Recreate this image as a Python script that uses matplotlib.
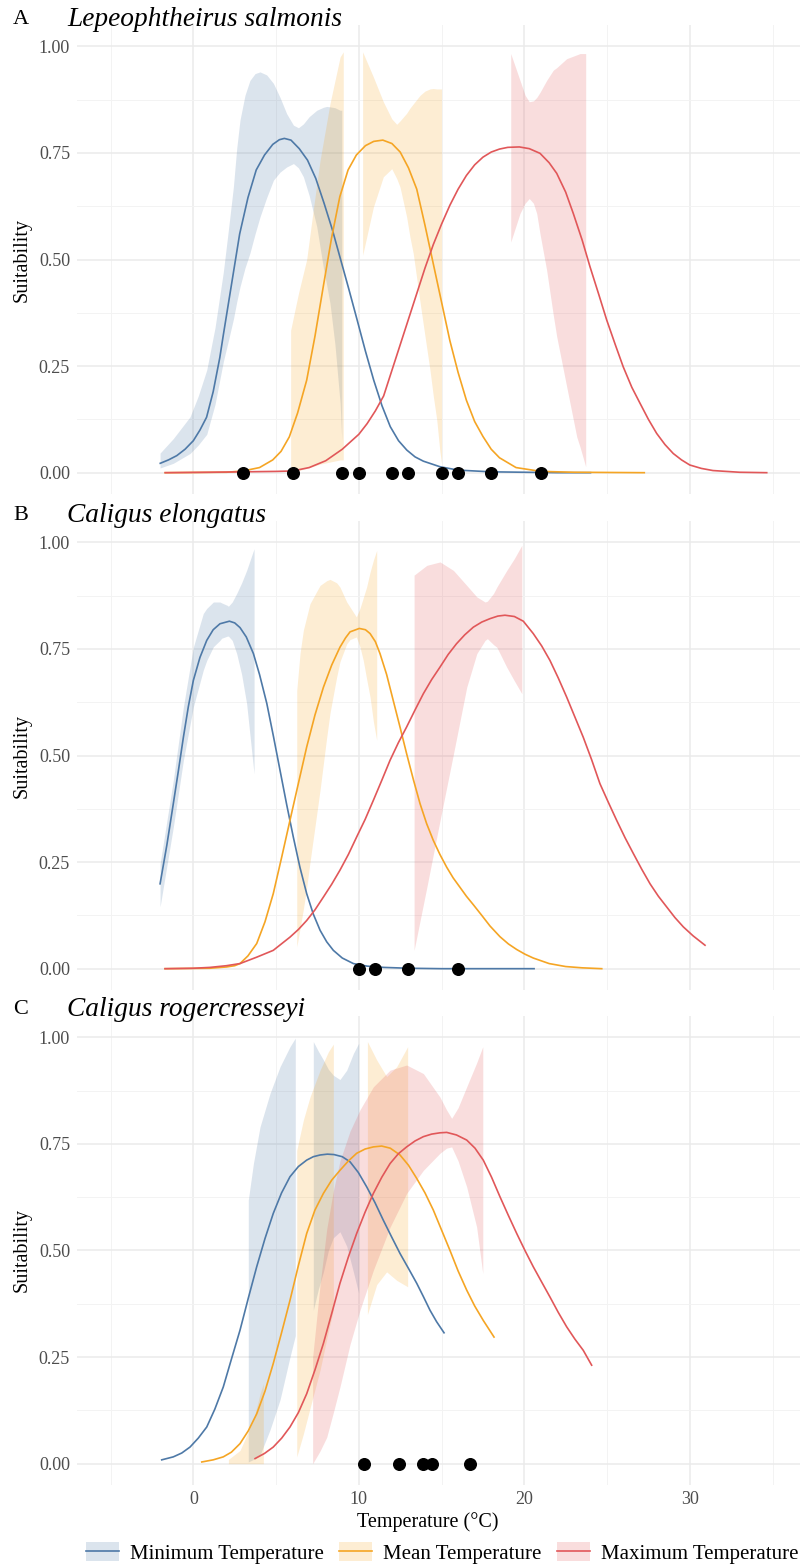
import matplotlib
matplotlib.use('Agg')
import matplotlib.pyplot as plt
from matplotlib.patches import Patch
from matplotlib.lines import Line2D

plt.rcParams['font.family'] = ['Liberation Serif', 'DejaVu Serif']

letters = ['A', 'B', 'C']
species = ['Lepeophtheirus salmonis', 'Caligus elongatus', 'Caligus rogercresseyi']
series_names = ['Minimum Temperature', 'Mean Temperature', 'Maximum Temperature']
line_colors = ['#4E79A7', '#F5A524', '#E15759']

# ---------------- panel A: Lepeophtheirus salmonis
a_min_x = [-2.0, -1.5, -1.0, -0.5, 0, 0.4, 0.8, 1.2, 1.6, 1.8, 2.3, 2.8, 3.3, 3.8, 4.3, 4.8, 5.2, 5.5, 5.9, 6.4, 6.9,
           7.4, 7.9, 8.4, 8.9, 9.4, 9.9, 10.4, 10.9, 11.4, 11.9, 12.4, 12.9, 13.4, 13.9, 14.9, 16, 18, 20, 22, 24]
a_min_y = [0.022, 0.03, 0.04, 0.055, 0.075, 0.1, 0.13, 0.19, 0.27, 0.32, 0.44, 0.56, 0.645, 0.71, 0.745, 0.77, 0.781, 0.784, 0.78, 0.76, 0.733,
           0.69, 0.632, 0.57, 0.50, 0.43, 0.358, 0.285, 0.217, 0.157, 0.108, 0.075, 0.053, 0.037, 0.027, 0.014, 0.006, 0.002, 0.001, 0.0, 0.0]
a_mean_x = [-1.7, 2, 3, 4, 4.8, 5.3, 5.8, 6.3, 6.85, 7.35, 7.85, 8.35, 8.85, 9.35, 9.85, 10.4, 10.9, 11.45, 12.0, 12.5,
            13.0, 13.5, 14.0, 14.5, 15.0, 15.5, 16.0, 16.5, 17.0, 17.5, 18.0, 18.5, 19.5, 21, 23, 27.25]
a_mean_y = [0, 0.001, 0.004, 0.012, 0.03, 0.05, 0.084, 0.14, 0.217, 0.32, 0.436, 0.55, 0.647, 0.71, 0.745, 0.767, 0.777, 0.78, 0.772, 0.752,
            0.715, 0.665, 0.58, 0.49, 0.40, 0.31, 0.235, 0.17, 0.12, 0.085, 0.055, 0.035, 0.012, 0.003, 0.001, 0]
a_max_x = [-1.7, 1, 3, 5, 6, 7, 8, 9, 10, 10.5, 11, 11.5, 12, 12.5, 13, 13.5, 14, 14.5, 15, 15.5, 16, 16.5, 17, 17.5, 18, 18.5, 19,
           19.7, 20.3, 20.95, 21.5, 21.96, 22.5, 22.96, 23.5, 23.97, 24.5, 24.98, 25.5, 25.98, 26.5, 26.99, 27.5, 28, 28.5, 29,
           29.5, 30, 30.7, 31.4, 33, 34.65]
a_max_y = [0, 0.001, 0.002, 0.003, 0.004, 0.012, 0.028, 0.055, 0.09, 0.115, 0.145, 0.18, 0.24, 0.3, 0.36, 0.42, 0.48, 0.535, 0.583, 0.627, 0.665, 0.697, 0.722, 0.74, 0.752, 0.759, 0.763,
           0.764, 0.76, 0.749, 0.727, 0.702, 0.658, 0.608, 0.545, 0.483, 0.418, 0.358, 0.3, 0.248, 0.2, 0.163, 0.125, 0.092, 0.066, 0.045,
           0.03, 0.018, 0.01, 0.005, 0.001, 0]

a_min_band_x = [-2.01, -1.21, -0.2, 0.3, 0.81, 1.31, 1.81, 2.12, 2.42, 2.62, 2.82, 3.12, 3.42, 3.73, 4.03, 4.43, 4.84, 5.24, 5.64,
                6.05, 6.35, 6.65, 7.0, 7.46, 7.86, 8.06, 8.26, 8.56, 8.87, 8.97]
a_min_band_hi = [0.046, 0.08, 0.131, 0.18, 0.241, 0.34, 0.47, 0.57, 0.67, 0.76, 0.827, 0.885, 0.92, 0.936, 0.94, 0.933, 0.913, 0.88, 0.842,
                 0.815, 0.809, 0.818, 0.835, 0.85, 0.857, 0.859, 0.858, 0.856, 0.85, 0.85]
a_min_band_lo = [0.011, 0.022, 0.045, 0.065, 0.09, 0.16, 0.26, 0.31, 0.36, 0.40, 0.436, 0.48, 0.515, 0.56, 0.6, 0.645, 0.686, 0.705, 0.717,
                 0.725, 0.715, 0.694, 0.65, 0.577, 0.48, 0.44, 0.397, 0.3, 0.163, 0.077]
a_mean_band1_x = [5.88, 6.35, 6.85, 7.26, 7.66, 8.26, 8.87, 9.06]
a_mean_band1_hi = [0.334, 0.42, 0.50, 0.62, 0.733, 0.866, 0.975, 0.987]
a_mean_band1_lo = [0.0, 0.005, 0.01, 0.015, 0.02, 0.025, 0.03, 0.03]
a_mean_band2_x = [10.23, 10.88, 11.48, 11.99, 12.29, 12.49, 12.89, 13.09, 13.29, 13.7, 14.0, 14.3, 14.5, 14.71, 14.9, 15.0]
a_mean_band2_hi = [0.987, 0.928, 0.87, 0.83, 0.817, 0.825, 0.843, 0.855, 0.865, 0.885, 0.895, 0.90, 0.901, 0.90, 0.9, 0.9]
a_mean_band2_lo = [0.51, 0.623, 0.694, 0.713, 0.69, 0.67, 0.60, 0.553, 0.514, 0.40, 0.32, 0.241, 0.18, 0.124, 0.05, 0.022]
a_max_band_x = [19.18, 19.74, 20.05, 20.3, 20.55, 20.75, 20.95, 21.35, 21.75, 21.96, 22.56, 23.17, 23.37, 23.71]
a_max_band_hi = [0.983, 0.92, 0.885, 0.87, 0.872, 0.88, 0.892, 0.92, 0.944, 0.95, 0.971, 0.98, 0.983, 0.983]
a_max_band_lo = [0.541, 0.608, 0.632, 0.643, 0.632, 0.608, 0.56, 0.475, 0.37, 0.319, 0.202, 0.084, 0.06, 0.014]
a_obs = [3, 6, 9, 10, 12, 13, 15, 16, 18, 21]

# ---------------- panel B: Caligus elongatus
b_min_x = [-2.01, -1.6, -1.21, -0.9, -0.6, -0.3, 0, 0.4, 0.81, 1.2, 1.61, 2.18, 2.5, 2.82, 3.2, 3.63, 4.0, 4.44, 4.84, 5.24,
           5.64, 6.04, 6.44, 6.85, 7.25, 7.66, 8.06, 8.46, 9.0, 9.67, 10.5, 11.5, 13, 15, 20.59]
b_min_y = [0.199, 0.29, 0.387, 0.465, 0.543, 0.615, 0.676, 0.73, 0.77, 0.795, 0.809, 0.815, 0.811, 0.80, 0.778, 0.739, 0.69, 0.622, 0.545, 0.465,
           0.385, 0.309, 0.238, 0.176, 0.128, 0.09, 0.063, 0.043, 0.025, 0.012, 0.006, 0.003, 0.001, 0, 0]
b_mean_x = [-1.71, 1, 2, 2.5, 2.82, 3.3, 3.83, 4.33, 4.83, 5.33, 5.84, 6.35, 6.85, 7.35, 7.86, 8.36, 8.86, 9.2, 9.47, 10.03, 10.4,
            10.68, 11.0, 11.28, 11.68, 12.08, 12.5, 12.89, 13.3, 13.7, 14.1, 14.5, 14.9, 15.31, 15.7, 16.11, 16.5, 16.92, 17.43,
            17.93, 18.53, 19.04, 19.54, 20.04, 20.54, 21.5, 22.5, 23.5, 24.68]
b_mean_y = [0, 0.001, 0.004, 0.007, 0.012, 0.03, 0.059, 0.11, 0.176, 0.26, 0.348, 0.435, 0.52, 0.595, 0.66, 0.712, 0.754, 0.776, 0.79, 0.798, 0.795,
            0.786, 0.767, 0.739, 0.69, 0.629, 0.565, 0.504, 0.443, 0.387, 0.34, 0.301, 0.268, 0.238, 0.213, 0.191, 0.17, 0.15, 0.125,
            0.10, 0.075, 0.058, 0.045, 0.034, 0.025, 0.012, 0.005, 0.002, 0]
b_max_x = [-1.71, 0, 1, 2, 2.82, 3.83, 4.83, 5.84, 6.35, 6.85, 7.35, 7.86, 8.36, 8.86, 9.37, 9.87, 10.38, 10.88, 11.39, 11.89,
           12.39, 12.89, 13.4, 13.9, 14.4, 14.9, 15.4, 15.9, 16.4, 16.92, 17.43, 17.93, 18.4, 18.83, 19.4, 19.94, 20.54, 21.05,
           21.55, 22.05, 22.56, 23.06, 23.56, 24.07, 24.57, 25.08, 25.58, 26.09, 26.59, 27.1, 27.6, 28.1, 28.6, 29.1, 29.61, 30.2, 30.92]
b_max_y = [0, 0.001, 0.003, 0.007, 0.012, 0.027, 0.043, 0.074, 0.092, 0.113, 0.138, 0.168, 0.198, 0.231, 0.268, 0.309, 0.35, 0.395, 0.442, 0.489,
           0.53, 0.567, 0.607, 0.645, 0.678, 0.707, 0.737, 0.762, 0.783, 0.801, 0.813, 0.821, 0.827, 0.829, 0.826, 0.815, 0.786, 0.757,
           0.723, 0.682, 0.637, 0.59, 0.543, 0.49, 0.434, 0.39, 0.348, 0.307, 0.27, 0.233, 0.199, 0.17, 0.145, 0.12, 0.098, 0.077, 0.055]

b_min_band_x = [-2.01, -1.21, -0.6, 0, 0.6, 0.81, 1.21, 1.61, 1.71, 2.06, 2.12, 2.35, 2.62, 2.92, 3.22, 3.67]
b_min_band_hi = [0.246, 0.442, 0.614, 0.754, 0.833, 0.845, 0.86, 0.86, 0.858, 0.852, 0.85, 0.86, 0.88, 0.905, 0.934, 0.985]
b_min_band_lo = [0.145, 0.332, 0.489, 0.614, 0.70, 0.723, 0.755, 0.77, 0.775, 0.78, 0.78, 0.77, 0.739, 0.69, 0.622, 0.457]
b_mean_band_x = [6.25, 6.45, 6.65, 6.85, 7.05, 7.46, 7.66, 8.06, 8.26, 8.66, 8.86, 9.27, 9.47, 9.85, 10.07, 10.27, 10.47, 10.68, 10.88, 11.08]
b_mean_band_hi = [0.653, 0.74, 0.794, 0.825, 0.856, 0.885, 0.899, 0.91, 0.913, 0.905, 0.895, 0.86, 0.848, 0.825, 0.845, 0.87, 0.895, 0.93, 0.958, 0.981]
b_mean_band_lo = [0.051, 0.095, 0.14, 0.191, 0.25, 0.364, 0.42, 0.543, 0.60, 0.684, 0.72, 0.762, 0.772, 0.778, 0.755, 0.723, 0.68, 0.637, 0.58, 0.536]
b_max_band_x = [13.34, 14.11, 14.91, 15.72, 16.52, 17.13, 17.63, 17.77, 18.14, 18.34, 18.94, 19.4, 19.85]
b_max_band_hi = [0.923, 0.946, 0.954, 0.934, 0.899, 0.872, 0.86, 0.862, 0.88, 0.895, 0.934, 0.962, 0.993]
b_max_band_lo = [0.043, 0.191, 0.348, 0.504, 0.66, 0.739, 0.77, 0.774, 0.76, 0.754, 0.707, 0.675, 0.645]
b_obs = [10, 11, 13, 16]

# ---------------- panel C: Caligus rogercresseyi
c_min_x = [-1.91, -1.21, -0.7, -0.2, 0.3, 0.81, 1.3, 1.81, 2.3, 2.82, 3.32, 3.83, 4.33, 4.83, 5.33, 5.84, 6.35, 6.85, 7.25,
           7.66, 8.1, 8.5, 9.0, 9.47, 9.97, 10.48, 10.98, 11.48, 11.98, 12.49, 13.0, 13.5, 13.9, 14.3, 14.7, 15.15]
c_min_y = [0.009, 0.016, 0.025, 0.039, 0.06, 0.086, 0.128, 0.18, 0.245, 0.313, 0.388, 0.462, 0.528, 0.587, 0.635, 0.673, 0.697, 0.712, 0.72,
           0.724, 0.726, 0.725, 0.72, 0.708, 0.683, 0.649, 0.612, 0.571, 0.532, 0.493, 0.458, 0.423, 0.392, 0.36, 0.333, 0.307]
c_mean_x = [0.51, 1.2, 1.81, 2.3, 2.82, 3.32, 3.83, 4.33, 4.83, 5.33, 5.84, 6.35, 6.85, 7.35, 7.86, 8.36, 8.86, 9.37, 9.87,
            10.38, 10.88, 11.38, 11.9, 12.49, 13.0, 13.5, 14.0, 14.5, 15.0, 15.51, 16.0, 16.52, 17.0, 17.52, 18.17]
c_mean_y = [0.004, 0.009, 0.016, 0.027, 0.047, 0.077, 0.117, 0.17, 0.235, 0.307, 0.383, 0.465, 0.54, 0.595, 0.634, 0.665, 0.688, 0.71, 0.728,
            0.738, 0.743, 0.745, 0.74, 0.724, 0.7, 0.669, 0.635, 0.595, 0.548, 0.5, 0.452, 0.407, 0.37, 0.336, 0.297]
c_max_x = [3.73, 4.3, 4.83, 5.34, 5.84, 6.35, 6.85, 7.35, 7.86, 8.36, 8.86, 9.37, 9.87, 10.38, 10.88, 11.39, 11.89, 12.39, 12.89,
           13.4, 13.9, 14.4, 14.9, 15.31, 15.9, 16.52, 17.02, 17.52, 18.02, 18.53, 19.04, 19.54, 20.04, 20.54, 21.05, 21.55,
           22.05, 22.56, 23.06, 23.56, 24.07]
c_max_y = [0.012, 0.024, 0.039, 0.06, 0.086, 0.12, 0.164, 0.22, 0.282, 0.352, 0.423, 0.485, 0.54, 0.59, 0.634, 0.672, 0.704, 0.727, 0.743,
           0.757, 0.767, 0.773, 0.776, 0.777, 0.771, 0.759, 0.74, 0.712, 0.672, 0.626, 0.582, 0.54, 0.5, 0.462, 0.426, 0.391,
           0.355, 0.321, 0.292, 0.266, 0.231]

c_min_band1_x = [3.32, 3.63, 4.03, 4.64, 5.24, 5.84, 6.16]
c_min_band1_hi = [0.618, 0.704, 0.79, 0.869, 0.931, 0.978, 0.998]
c_min_band1_lo = [0.004, 0.01, 0.02, 0.08, 0.15, 0.25, 0.30]
c_min_band2_x = [7.25, 7.56, 7.86, 8.16, 8.46, 8.86, 9.27, 9.67, 9.99]
c_min_band2_hi = [0.99, 0.967, 0.947, 0.925, 0.911, 0.901, 0.923, 0.962, 0.986]
c_min_band2_lo = [0.36, 0.41, 0.45, 0.5, 0.53, 0.544, 0.51, 0.45, 0.40]
c_mean_band0_x = [2.12, 2.82, 3.63, 4.03, 4.23]
c_mean_band0_hi = [0.01, 0.031, 0.102, 0.164, 0.188]
c_mean_band0_lo = [0.0, 0.0, 0.0, 0.0, 0.0]
c_mean_band1_x = [6.25, 6.65, 7.05, 7.66, 8.16, 8.46]
c_mean_band1_hi = [0.735, 0.806, 0.86, 0.923, 0.966, 0.984]
c_mean_band1_lo = [0.016, 0.07, 0.13, 0.22, 0.31, 0.36]
c_mean_band2_x = [10.52, 11.08, 11.68, 12.29, 12.95]
c_mean_band2_hi = [0.99, 0.947, 0.908, 0.931, 0.978]
c_mean_band2_lo = [0.35, 0.42, 0.45, 0.43, 0.415]
c_max_band_x = [7.21, 7.66, 8.06, 8.46, 8.86, 9.47, 10.07, 10.88, 11.89, 12.89, 13.9, 14.9, 15.3, 15.61, 16.0, 16.52, 17.12, 17.49]
c_max_band_hi = [0.25, 0.42, 0.55, 0.64, 0.71, 0.78, 0.83, 0.884, 0.923, 0.935, 0.915, 0.86, 0.83, 0.81, 0.835, 0.884, 0.94, 0.978]
c_max_band_lo = [0.0, 0.03, 0.062, 0.12, 0.18, 0.28, 0.36, 0.454, 0.555, 0.634, 0.688, 0.728, 0.74, 0.743, 0.71, 0.649, 0.555, 0.446]
c_obs = [10.3, 12.4, 13.9, 14.4, 16.7]

x_ticks = [0, 10, 20, 30]
y_ticks = [0.00, 0.25, 0.50, 0.75, 1.00]

panels = [
    dict(lines=[(a_min_x, a_min_y), (a_mean_x, a_mean_y), (a_max_x, a_max_y)],
         bands=[[(a_min_band_x, a_min_band_lo, a_min_band_hi)],
                [(a_mean_band1_x, a_mean_band1_lo, a_mean_band1_hi),
                 (a_mean_band2_x, a_mean_band2_lo, a_mean_band2_hi)],
                [(a_max_band_x, a_max_band_lo, a_max_band_hi)]],
         obs=a_obs),
    dict(lines=[(b_min_x, b_min_y), (b_mean_x, b_mean_y), (b_max_x, b_max_y)],
         bands=[[(b_min_band_x, b_min_band_lo, b_min_band_hi)],
                [(b_mean_band_x, b_mean_band_lo, b_mean_band_hi)],
                [(b_max_band_x, b_max_band_lo, b_max_band_hi)]],
         obs=b_obs),
    dict(lines=[(c_min_x, c_min_y), (c_mean_x, c_mean_y), (c_max_x, c_max_y)],
         bands=[[(c_min_band1_x, c_min_band1_lo, c_min_band1_hi),
                 (c_min_band2_x, c_min_band2_lo, c_min_band2_hi)],
                [(c_mean_band0_x, c_mean_band0_lo, c_mean_band0_hi),
                 (c_mean_band1_x, c_mean_band1_lo, c_mean_band1_hi),
                 (c_mean_band2_x, c_mean_band2_lo, c_mean_band2_hi)],
                [(c_max_band_x, c_max_band_lo, c_max_band_hi)]],
         obs=c_obs),
]

W, H = 801, 1567
fig = plt.figure(figsize=(W / 100, H / 100), dpi=100)

left_px, right_px = 77, 800
tops_px = [25, 521, 1016]
height_px = 469
tick_color = '#4D4D4D'

for i, p in enumerate(panels):
    top = tops_px[i]
    ax = fig.add_axes([left_px / W, 1 - (top + height_px) / H,
                       (right_px - left_px) / W, height_px / H])
    for s in ax.spines.values():
        s.set_visible(False)
    ax.set_xlim(-7.03, 36.66)
    ax.set_ylim(-0.05, 1.05)
    ax.set_xticks(x_ticks)
    ax.set_xticks([-5, 5, 15, 25, 35], minor=True)
    ax.set_yticks(y_ticks)
    ax.set_yticks([0.125, 0.375, 0.625, 0.875], minor=True)
    ax.grid(which='major', color='#EBEBEB', lw=1.1)
    ax.grid(which='minor', color='#F3F3F3', lw=0.7)
    ax.set_axisbelow(True)
    ax.tick_params(which='both', length=0, colors=tick_color, labelsize=13, pad=5)
    ax.set_yticklabels(['%.2f' % v for v in y_ticks])
    if i < 2:
        ax.set_xticklabels([])
    else:
        ax.tick_params(axis='x', pad=4)
    ax.set_ylabel('Suitability', fontsize=14.5, labelpad=5)

    for k in range(3):
        for bx, blo, bhi in p['bands'][k]:
            ax.fill_between(bx, blo, bhi, color=line_colors[k], alpha=0.2, lw=0)
    for k in range(3):
        lx, ly = p['lines'][k]
        ax.plot(lx, ly, color=line_colors[k], lw=1.2)
    ax.scatter(p['obs'], [0] * len(p['obs']), s=70, color='black', zorder=5)

    fig.text(13 / W, 1 - (top - 6) / H, letters[i], fontsize=16, va='center', ha='left')
    fig.text(67 / W, 1 - (top - 6) / H, species[i], fontsize=19.7, style='italic',
             va='center', ha='left')

fig.text(428 / W, 1 - 1522 / H, 'Temperature (°C)', fontsize=14.5, ha='center', va='center')

handles = [(Patch(facecolor=c, alpha=0.2, lw=0), Line2D([0], [0], color=c, lw=1.2))
           for c in line_colors]
fig.legend(handles, series_names, loc='center', bbox_to_anchor=(442 / W, 1 - 1553 / H),
           ncol=3, frameon=False, fontsize=15, handlelength=1.6, handleheight=1.0,
           handletextpad=0.5, columnspacing=0.75, borderaxespad=0)

fig.savefig('out.png', dpi=100)
